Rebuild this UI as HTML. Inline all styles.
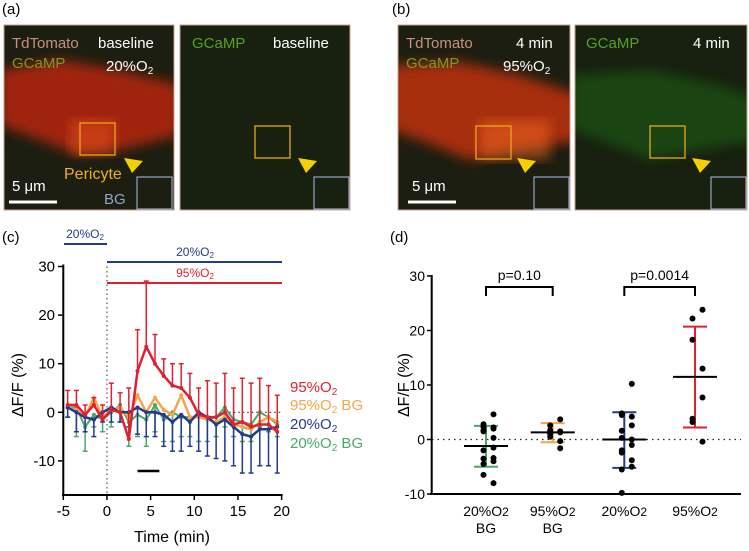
<!DOCTYPE html>
<html><head><meta charset="utf-8"><style>
body{margin:0;background:#fff;}
svg{display:block;font-family:"Liberation Sans",sans-serif;}
</style></head><body>
<svg id="fig" width="749" height="551" viewBox="0 0 749 551">
<defs>
<filter id="blur6"><feGaussianBlur stdDeviation="6"/></filter>
<clipPath id="ca1"><rect x="4" y="25" width="170" height="185"/></clipPath>
<clipPath id="ca2"><rect x="180" y="25" width="170" height="185"/></clipPath>
<clipPath id="cb1"><rect x="398" y="25" width="172" height="185"/></clipPath>
<clipPath id="cb2"><rect x="575" y="25" width="172" height="185"/></clipPath>
</defs>
<text x="2" y="14" font-size="15">(a)</text>
<text x="392" y="14" font-size="15">(b)</text>
<text x="2" y="242" font-size="15">(c)</text>
<text x="390" y="242" font-size="15">(d)</text>

<g clip-path="url(#ca1)">
<rect x="4" y="25" width="170" height="185" fill="#1c1e12"/>
<polygon points="0,70 60,60 120,70 180,85 180,135 120,150 80,155 40,140 0,125" fill="#b82810" opacity="0.85" filter="url(#blur6)"/>
<rect x="70" y="120" width="45" height="35" fill="#ff6020" opacity="0.4" filter="url(#blur6)"/>
</g>
<g clip-path="url(#ca2)">
<rect x="180" y="25" width="170" height="185" fill="#18200f"/>
</g>
<g clip-path="url(#cb1)">
<rect x="398" y="25" width="172" height="185" fill="#1c1e12"/>
<polygon points="390,65 460,62 520,75 580,95 580,140 520,150 470,160 420,140 390,130" fill="#c03010" opacity="0.85" filter="url(#blur6)"/>
<rect x="480" y="120" width="70" height="40" fill="#ff7020" opacity="0.45" filter="url(#blur6)"/>
</g>
<g clip-path="url(#cb2)">
<rect x="575" y="25" width="172" height="185" fill="#18200f"/>
<polygon points="570,75 650,70 720,85 760,100 760,140 700,150 650,160 600,140 570,130" fill="#1e6a18" opacity="0.5" filter="url(#blur6)"/>
</g>
<g stroke="#c8a08a" stroke-width="1" fill="none"><rect x="4" y="25" width="170" height="185"/><rect x="180" y="25" width="170" height="185"/><rect x="398" y="25" width="172" height="185"/><rect x="575" y="25" width="172" height="185"/></g>
<g font-size="15">
<text x="12" y="48" fill="#c89080">TdTomato</text><text x="98" y="48" fill="#fff">baseline</text>
<text x="12" y="68" fill="#7a9a20">GCaMP</text><text x="106" y="71" fill="#fff">20%O<tspan font-size="10" dy="3">2</tspan></text>
<text x="64" y="179" fill="#f0b020" font-size="16">Pericyte</text>
<text x="104" y="204" fill="#8fa6c4">BG</text>
<text x="12" y="191" fill="#fff">5 μm</text>
<text x="192" y="48" fill="#5aa020">GCaMP</text><text x="273" y="48" fill="#fff">baseline</text>
<text x="406" y="48" fill="#c89080">TdTomato</text><text x="516" y="48" fill="#fff">4 min</text>
<text x="406" y="68" fill="#7a9a20">GCaMP</text><text x="503" y="71" fill="#fff">95%O<tspan font-size="10" dy="3">2</tspan></text>
<text x="412" y="191" fill="#fff">5 μm</text>
<text x="586" y="48" fill="#5aa020">GCaMP</text><text x="693" y="48" fill="#fff">4 min</text>
</g>
<g fill="none" stroke="#e8a818" stroke-width="1.3"><rect x="80" y="123" width="35" height="32"/><rect x="255" y="126" width="35" height="32"/><rect x="476" y="126" width="35" height="33"/><rect x="650" y="126" width="35" height="32"/></g>
<g fill="#f5d000"><polygon points="124,158 143,161 132,173"/><polygon points="298,158 317,161 306,173"/><polygon points="517,158 536,161 525,173"/><polygon points="692,158 711,161 700,173"/></g>
<g fill="none" stroke="#8fa6c4" stroke-width="1.2"><rect x="137" y="177" width="35" height="32"/><rect x="314" y="177" width="35" height="32"/><rect x="534" y="177" width="35" height="32"/><rect x="711" y="177" width="35" height="32"/></g>
<g stroke="#fff" stroke-width="3"><line x1="9" y1="202" x2="57" y2="202"/><line x1="408" y1="202" x2="456" y2="202"/></g>

<g id="pc"></g>
<g id="pd"></g>
</svg>
<script>
const times=[-4.5,-3.5,-2.5,-1.5,-0.5,0.5,1.5,2.5,3.5,4.5,5.5,6.5,7.5,8.5,9.5,10.5,11.5,12.5,13.5,14.5,15.5,16.5,17.5,18.5,19.5];
const red95=[1.5,1.5,-0.5,1.5,-1.5,0.5,0,-5.5,8.5,13.5,10,7.5,5.5,5,3,-0.5,-1,-1,0,-2.5,-2,-3,-2.5,-2.5,-4];
const red95Up=[4.5,4.5,1.5,3,1.5,6,4,5,17,27,16,11,10,10,8,5,6.5,6,8,5,7,6,7,5.5,3.5];
const blue20=[1,0,-1,-1.5,0,1,0,0,1,0,0,-0.5,-2,-0.5,-2,0,-1,-2.5,-1.5,-3,-4.5,-5,-3.5,-3.5,-3];
const blue20Low=[-1,-4,-4,-5,-2,-2,-2,-3,-4.5,-5,-5,-7,-8,-8,-7,-8,-9,-9.5,-10,-11,-12.5,-12.5,-11,-11,-12.5];
const orange95bg=[1,0.5,-1,3,-1,0.5,1,-1,3.5,0,3,0.5,-0.5,3.5,-1,-1,-1.5,-2,-1,-2.5,-3,-3.5,-2,-1,-2];
const green20bg=[1,1,-3,-0.5,-1.5,0,1.5,-2,-0.5,-1.5,1.5,-1.5,0,-1,-1,-1,-1.5,-1,1,-1.5,-2,-2.5,0,-1,-2.5];
const green20bgLow=[-1,-5,-8,-3,-4,-3,-2,-7,-5,-7,-4,-6,-6,-5,-5,-6,-6,-5,-3,-5,-6,-6,-3,-4,-5];
const cXTicks=[-5,0,5,10,15,20];
const cYTicks=[30,20,10,0,-10];
const dCats=["20%O2 BG","95%O2 BG","20%O2","95%O2"];
const dMeans=[-1.2,1.3,0,11.5];
const dLow=[-5,-0.5,-5.2,2.2];
const dHigh=[2.5,3,5,20.7];
const dPoints=[[4.6,2.8,2.3,2.2,2,1.7,1.5,0.3,-1.5,-2,-3.5,-3.4,-4,-4.5,-6.5,-8],[3.7,2.6,1.7,1.5,1.3,1,0.5,-0.3,-1.6],[10.2,4.8,4.5,4.2,2.6,1.6,0.3,0,-1,-2,-2.4,-3.8,-5,-5.5,-9.8],[23.8,22.2,18.3,13,7.7,3.8,3.2,-0.4]];
const dYTicks=[30,20,10,0,-10];

const NS="http://www.w3.org/2000/svg";
function mk(p,tag,a,txt){const e=document.createElementNS(NS,tag);for(const k in a)e.setAttribute(k,a[k]);if(txt!=null)e.textContent=txt;p.appendChild(e);return e;}
const RED="#e0202e",BLUE="#243a8c",ORG="#f5a54a",GRN="#4aa86a";
const pc=document.getElementById('pc');
const cx=t=>63.3+(t+5)*8.733, cy=v=>412.3-v*4.86;
let e;
e=mk(pc,'line',{x1:63.3,y1:cy(30)-2,x2:63.3,y2:495,stroke:'#000','stroke-width':2});

e=mk(pc,'line',{x1:62,y1:495,x2:cx(20)+1,y2:495,stroke:'#000','stroke-width':2});

cYTicks.forEach(v=>{mk(pc,'line',{x1:58,y1:cy(v),x2:63,y2:cy(v),stroke:'#000','stroke-width':1.5});
e=mk(pc,'text',{x:55,y:cy(v)+5,'font-size':15,'text-anchor':'end'},v);
});
cXTicks.forEach(v=>{mk(pc,'line',{x1:cx(v),y1:495,x2:cx(v),y2:500,stroke:'#000','stroke-width':1.5});
e=mk(pc,'text',{x:cx(v),y:516,'font-size':15,'text-anchor':'middle'},v);
});
mk(pc,'line',{x1:cx(0),y1:cy(30),x2:cx(0),y2:495,stroke:'#555','stroke-dasharray':'1.5,3','stroke-width':1.2});
mk(pc,'line',{x1:cx(14),y1:cy(0),x2:cx(20),y2:cy(0),stroke:'#333','stroke-dasharray':'1.5,3','stroke-width':1.2});
e=mk(pc,'text',{x:172,y:542,'font-size':16,'text-anchor':'middle'},'Time (min)');

e=mk(pc,'text',{x:0,y:0,'font-size':16,'text-anchor':'middle',transform:'translate(23,385) rotate(-90)'},'ΔF/F (%)');

function series(vals,col,err,w,name){
  if(err){vals.forEach((v,i)=>{const x=cx(times[i]);mk(pc,'line',{x1:x,y1:cy(v),x2:x,y2:cy(err[i]),stroke:col,'stroke-width':1.5});mk(pc,'line',{x1:x-2.5,y1:cy(err[i]),x2:x+2.5,y2:cy(err[i]),stroke:col,'stroke-width':1.5});});}
  const pts=vals.map((v,i)=>cx(times[i])+','+cy(v)).join(' ');
  const l=mk(pc,'polyline',{points:pts,fill:'none',stroke:col,'stroke-width':w});
  
  vals.forEach((v,i)=>mk(pc,'circle',{cx:cx(times[i]),cy:cy(v),r:2,fill:col}));
}
series(green20bg,GRN,green20bgLow,2,'series-20-o2-bg');
series(orange95bg,ORG,null,2.5,'series-95-o2-bg');
series(blue20,BLUE,blue20Low,2.5,'series-20-o2');
series(red95,RED,red95Up,2.5,'series-95-o2');
mk(pc,'line',{x1:cx(3.5),y1:471,x2:cx(6),y2:471,stroke:'#000','stroke-width':2.5});
function bar(x1,x2,y,col,txt,tx){mk(pc,'line',{x1:x1,y1:y,x2:x2,y2:y,stroke:col,'stroke-width':2});
 const t=mk(pc,'text',{x:tx,y:y-6,'font-size':12,'text-anchor':'middle',fill:col});t.textContent=txt;mk(t,'tspan',{'font-size':8,dy:2},'2');
 }
bar(64,107,244,BLUE,'20%O',85);bar(107,282,262,BLUE,'20%O',195);bar(107,282,283,RED,'95%O',195);
const leg=[['95%O','',RED,392],['95%O',' BG',ORG,410],['20%O','',BLUE,429],['20%O',' BG',GRN,448]];
leg.forEach(l=>{const t=mk(pc,'text',{x:290,y:l[3],'font-size':15,fill:l[2]},l[0]);mk(t,'tspan',{'font-size':10,dy:3},'2');mk(t,'tspan',{dy:-3},l[1]);
});
const pd=document.getElementById('pd');
const dy=v=>439.5-v*5.45, dx=i=>[486,552.7,624.3,695][i];
const dCols=[GRN,ORG,BLUE,RED];
e=mk(pd,'line',{x1:431.7,y1:dy(30)-1,x2:431.7,y2:494,stroke:'#000','stroke-width':2});

e=mk(pd,'line',{x1:430,y1:494,x2:741,y2:494,stroke:'#000','stroke-width':2});

dYTicks.forEach(v=>{mk(pd,'line',{x1:427,y1:dy(v),x2:432,y2:dy(v),stroke:'#000','stroke-width':1.5});
e=mk(pd,'text',{x:425,y:dy(v)+5,'font-size':14,'text-anchor':'end'},v);
});
mk(pd,'line',{x1:432,y1:dy(0),x2:741,y2:dy(0),stroke:'#222','stroke-dasharray':'1.5,4','stroke-width':1.3});
e=mk(pd,'text',{x:0,y:0,'font-size':16,'text-anchor':'middle',transform:'translate(409,385) rotate(-90)'},'ΔF/F (%)');

dCats.forEach((c,i)=>{const x=dx(i),col=dCols[i];
 mk(pd,'line',{x1:x,y1:dy(dLow[i]),x2:x,y2:dy(dHigh[i]),stroke:col,'stroke-width':2});
 mk(pd,'line',{x1:x-12,y1:dy(dLow[i]),x2:x+12,y2:dy(dLow[i]),stroke:col,'stroke-width':2});
 mk(pd,'line',{x1:x-12,y1:dy(dHigh[i]),x2:x+12,y2:dy(dHigh[i]),stroke:col,'stroke-width':2});
 dPoints[i].forEach((v,j)=>{const off=((j%4)-1.5)*5*(j%2?1:-1);const p=mk(pd,'circle',{cx:x+off,cy:dy(v),r:3,fill:'#000'});
 });
 const m=mk(pd,'line',{x1:x-22,y1:dy(dMeans[i]),x2:x+22,y2:dy(dMeans[i]),stroke:'#000','stroke-width':2});
 
 const parts=c.split(' ');const t=mk(pd,'text',{x:x,y:516,'font-size':14,'text-anchor':'middle'},parts[0].slice(0,-1));mk(t,'tspan',{'font-size':12},'2');
 
 if(parts[1])mk(pd,'text',{x:x,y:533,'font-size':14,'text-anchor':'middle'},parts[1]);
});
function bracket(a,b,txt){const x1=dx(a),x2=dx(b),y=287;mk(pd,'polyline',{points:`${x1},${y+9} ${x1},${y} ${x2},${y} ${x2},${y+9}`,fill:'none',stroke:'#000','stroke-width':2});
 const t=mk(pd,'text',{x:(x1+x2)/2,y:y-7,'font-size':14,'text-anchor':'middle'},txt);}
bracket(0,1,'p=0.10');bracket(2,3,'p=0.0014');
</script>
</body></html>
